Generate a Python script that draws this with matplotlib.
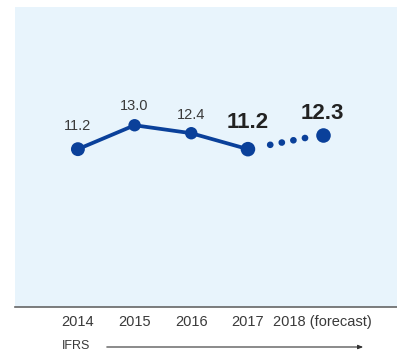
import matplotlib
matplotlib.use("Agg")
import matplotlib.pyplot as plt

plt.rcParams['font.family'] = ['Liberation Sans', 'DejaVu Sans']
plt.rcParams['lines.scale_dashes'] = False

# datos
years = ['2014', '2015', '2016', '2017', '2018 (forecast)']
values = [11.2, 13.0, 12.4, 11.2, 12.3]
x_pos = [0, 1, 2, 3, 4.32]   # 2018 (forecast) queda algo mas separado

blue = '#0a409a'
txt = '#3a3a3a'

W, H = 397, 352
fig = plt.figure(figsize=(W / 100, H / 100), dpi=100)
ax = fig.add_axes([15 / W, 45 / H, (W - 15) / W, 300 / H])
ax.set_facecolor('#e8f4fc')
ax.set_xlim(-1.11, 5.63)
ax.set_ylim(-0.68, 21.9)

# linea real
ax.plot(x_pos[:4], values[:4], color=blue, lw=2.7, solid_capstyle='round', zorder=2)
ax.scatter(x_pos[:4], values[:4], s=[100, 80, 80, 110], color=blue, zorder=3, linewidths=0)

# tramo de previsión punteado
ax.plot(x_pos[3:], values[3:], color=blue, lw=4.8, dash_capstyle='round',
        linestyle=(109.3, (0.1, 8.4, 0.1, 8.4, 0.1, 8.4, 0.1, 100)), zorder=2)
ax.scatter([x_pos[4]], [values[4]], s=110, color=blue, zorder=3, linewidths=0)

# etiquetas de valores (desplazamiento hasta la linea base, en puntos)
offsets = [13.7, 10.8, 10, 15, 11]
for i, (x, v) in enumerate(zip(x_pos, values)):
    bold = i >= 3
    ax.annotate(f'{v:.1f}', (x, v), xytext=(0, offsets[i]), textcoords='offset points',
                ha='center', va='baseline', color='#222222' if bold else txt,
                fontsize=16 if bold else 10.5, fontweight='bold' if bold else 'normal')

for s in ['top', 'left', 'right']:
    ax.spines[s].set_visible(False)
ax.spines['bottom'].set_color('#666666')
ax.spines['bottom'].set_linewidth(1.2)
ax.set_yticks([])
ax.set_xticks(x_pos)
ax.set_xticklabels(years, fontsize=10.5, color=txt)
ax.tick_params(axis='x', length=0, pad=6)

# IFRS y flecha
fig.text(62 / W, 1 - 346 / H, 'IFRS', fontsize=9, color=txt, va='center', ha='left')
fig.add_artist(matplotlib.patches.FancyArrowPatch(
    (104 / W, 1 - 347 / H), (366 / W, 1 - 347 / H), transform=fig.transFigure,
    arrowstyle='-|>,head_length=3,head_width=1.2', color='#333333', lw=0.8))

fig.savefig('out.png', dpi=100)
